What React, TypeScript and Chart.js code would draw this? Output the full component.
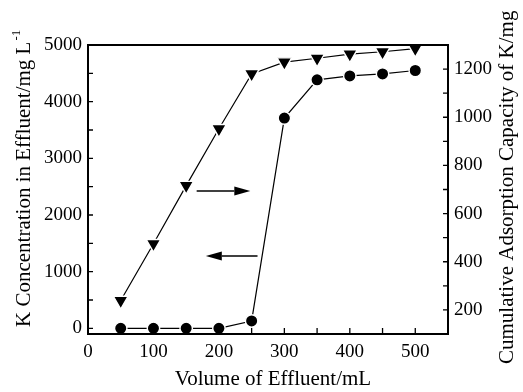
import React, { useEffect, useRef } from 'react';
import { Chart, registerables } from 'chart.js';

Chart.register(...registerables);

// ---- data ----
const volumes = [50, 100, 150, 200, 250, 300, 350, 400, 450, 500];
const kConcentration = [0, 0, 0, 0, 130, 3710, 4385, 4455, 4490, 4550];
const adsorptionCapacity = [239, 475, 716, 952, 1180, 1229, 1245, 1262, 1272, 1285];

const xTickLabels = [0, 100, 200, 300, 400, 500];
const xTickMarks = [50, 100, 150, 200, 250, 300, 350, 400, 450, 500];
const leftTickLabels = [0, 1000, 2000, 3000, 4000, 5000];
const leftTickMarks = [0, 500, 1000, 1500, 2000, 2500, 3000, 3500, 4000, 4500];
const rightTickLabels = [200, 400, 600, 800, 1000, 1200];
const rightTickMarks = [200, 300, 400, 500, 600, 700, 800, 900, 1000, 1100, 1200];

const xTitle = 'Volume of Effluent/mL';
const leftTitle = 'K Concentration in Effluent/mg L';
const leftTitleSup = '-1';
const rightTitle = 'Cumulative Adsorption Capacity of K/mg';

// arrows: [fromX, toX, yValue, axis]
const arrowToRight = { from: 166, to: 248, value: 694, axis: 'y1' };
const arrowToLeft = { from: 259, to: 180, value: 1276, axis: 'y' };

const FONT = '"Liberation Serif", "Times New Roman", Times, serif';

const decorPlugin = {
  id: 'decor',
  afterDraw(chart: any) {
    const { ctx, chartArea, scales } = chart;
    const { left, right, top, bottom } = chartArea;
    ctx.save();
    ctx.strokeStyle = '#000';
    ctx.fillStyle = '#000';
    // frame
    ctx.lineWidth = 2;
    ctx.strokeRect(left, top, right - left, bottom - top);
    // inward ticks
    ctx.lineWidth = 1.3;
    ctx.beginPath();
    xTickMarks.forEach((v) => {
      const p = scales.x.getPixelForValue(v);
      ctx.moveTo(p, bottom);
      ctx.lineTo(p, bottom - 6);
    });
    leftTickMarks.forEach((v) => {
      const p = scales.y.getPixelForValue(v);
      ctx.moveTo(left, p);
      ctx.lineTo(left + 5, p);
    });
    rightTickMarks.forEach((v) => {
      const p = scales.y1.getPixelForValue(v);
      ctx.moveTo(right, p);
      ctx.lineTo(right - 5, p);
    });
    ctx.stroke();

    // arrows
    const drawArrow = (a: any) => {
      const y = scales[a.axis].getPixelForValue(a.value);
      const x0 = scales.x.getPixelForValue(a.from);
      const x1 = scales.x.getPixelForValue(a.to);
      const dir = Math.sign(x1 - x0);
      const headLen = 16;
      ctx.lineWidth = 1.6;
      ctx.beginPath();
      ctx.moveTo(x0, y);
      ctx.lineTo(x1 - dir * headLen, y);
      ctx.stroke();
      ctx.beginPath();
      ctx.moveTo(x1, y);
      ctx.lineTo(x1 - dir * headLen, y - 4.5);
      ctx.lineTo(x1 - dir * headLen, y + 4.5);
      ctx.closePath();
      ctx.fill();
    };
    drawArrow(arrowToRight);
    drawArrow(arrowToLeft);

    // titles
    ctx.font = `21px ${FONT}`;
    ctx.textBaseline = 'alphabetic';
    ctx.textAlign = 'center';
    ctx.fillText(xTitle, 273, 385);

    ctx.save();
    ctx.translate(30, 327);
    ctx.rotate(-Math.PI / 2);
    ctx.textAlign = 'left';
    ctx.fillText(leftTitle, 0, 0);
    const w = ctx.measureText(leftTitle).width;
    ctx.font = `13px ${FONT}`;
    ctx.fillText(leftTitleSup, w + 1, -10);
    ctx.restore();

    ctx.save();
    ctx.font = `21px ${FONT}`;
    ctx.translate(513, 364);
    ctx.rotate(-Math.PI / 2);
    ctx.textAlign = 'left';
    ctx.fillText(rightTitle, 0, 0);
    ctx.restore();

    ctx.restore();
  },
};

export default function App() {
  const ref = useRef<HTMLCanvasElement>(null);
  useEffect(() => {
    document.body.style.margin = '0';
    const tickFont = { family: FONT, size: 19 };
    const plain = (v: any) => String(v);
    const chart = new Chart(ref.current!, {
      type: 'line',
      data: {
        datasets: [
          {
            label: 'K concentration',
            data: volumes.map((v, i) => ({ x: v, y: kConcentration[i] })),
            yAxisID: 'y',
            borderColor: '#000',
            borderWidth: 1.2,
            pointStyle: 'circle',
            pointRadius: 6.2,
            pointBackgroundColor: '#000',
            pointBorderColor: '#fff',
            pointBorderWidth: 1.4,
            tension: 0,
          },
          {
            label: 'Cumulative adsorption',
            data: volumes.map((v, i) => ({ x: v, y: adsorptionCapacity[i] })),
            yAxisID: 'y1',
            borderColor: '#000',
            borderWidth: 1.2,
            pointStyle: 'triangle',
            pointRotation: 180,
            pointRadius: 8.5,
            pointBackgroundColor: '#000',
            pointBorderColor: '#fff',
            pointBorderWidth: 1.4,
            tension: 0,
          },
        ],
      },
      options: {
        responsive: false,
        animation: false,
        devicePixelRatio: 1,
        layout: { padding: { top: 45, left: 0, right: 0, bottom: 0 } },
        plugins: { legend: { display: false }, tooltip: { enabled: false } },
        scales: {
          x: {
            type: 'linear',
            min: 0,
            max: 550,
            grid: { display: false, drawTicks: false },
            border: { display: false },
            afterBuildTicks: (s: any) => {
              s.ticks = xTickLabels.map((v) => ({ value: v }));
            },
            afterFit: (s: any) => {
              s.height = 58;
            },
            ticks: { font: tickFont, color: '#000', padding: 7, maxRotation: 0, callback: plain },
          },
          y: {
            type: 'linear',
            position: 'left',
            min: -100,
            max: 5000,
            grid: { display: false, drawTicks: false },
            border: { display: false },
            afterBuildTicks: (s: any) => {
              s.ticks = leftTickLabels.map((v) => ({ value: v }));
            },
            afterFit: (s: any) => {
              s.width = 88;
            },
            ticks: { font: tickFont, color: '#000', padding: 6, callback: plain },
          },
          y1: {
            type: 'linear',
            position: 'right',
            min: 100,
            max: 1300,
            grid: { display: false, drawTicks: false },
            border: { display: false },
            afterBuildTicks: (s: any) => {
              s.ticks = rightTickLabels.map((v) => ({ value: v }));
            },
            afterFit: (s: any) => {
              s.width = 75;
            },
            ticks: { font: tickFont, color: '#000', padding: 6, callback: plain },
          },
        },
      },
      plugins: [decorPlugin],
    });
    return () => chart.destroy();
  }, []);
  return (
    <div style={{ width: 523, height: 392 }}>
      <canvas ref={ref} width={523} height={392} />
    </div>
  );
}
